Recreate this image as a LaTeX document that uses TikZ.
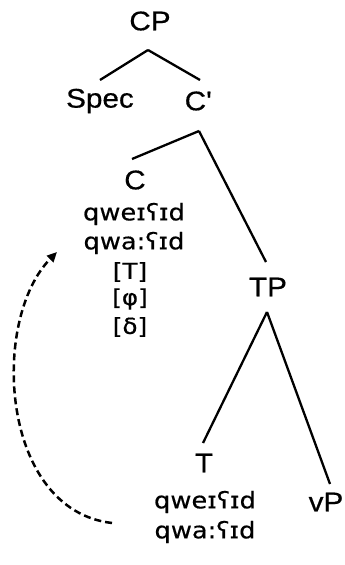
\documentclass[tikz,border=0pt]{standalone}
\usepackage{fontspec}
\setmainfont{Liberation Sans}[FakeStretch=1.1,FakeBold=0.5]
\newfontfamily\ipafont{DejaVu Sans}[FakeStretch=1.12,FakeBold=0.4]
\usetikzlibrary{arrows.meta}
\tikzset{
  lab/.style={font=\fontsize{27}{31}\selectfont, inner sep=0pt, anchor=center},
  ipa/.style={font=\ipafont\fontsize{23}{27}\selectfont, inner sep=0pt, anchor=center},
  feat/.style={font=\ipafont\fontsize{22}{26}\selectfont, inner sep=0pt, anchor=center},
  branch/.style={line width=2.3pt, black},
  move/.style={line width=2.5pt, dash pattern=on 7pt off 4pt, -{Triangle[length=10pt,width=9pt]}}
}
\begin{document}
\begin{tikzpicture}[x=1pt,y=-1pt]
\useasboundingbox (0,0) rectangle (345,565);
\node[lab] (CP) at (150,21) {CP};
\node[lab] (Spec) at (100,101) {Spec};
\node[lab] (Cbar) at (198,101) {C\textquotesingle};
\node[lab] (C) at (135,180) {C};
\node[ipa] (c1) at (134,214) {qweɪʕɪd};
\node[ipa] (c2) at (134,243) {qwa:ʕɪd};
\node[feat] (fT) at (130,272) {[T]};
\node[feat] (fphi) at (130,299) {[φ]};
\node[feat] (fdelta) at (130,327) {[δ]};
\node[lab] (TP) at (268,287) {TP};
\node[lab] (T) at (204,463) {T};
\node[ipa] (t1) at (205,502) {qweɪʕɪd};
\node[ipa] (t2) at (205,532) {qwa:ʕɪd};
\node[lab] (vP) at (326,502) {vP};
\coordinate (cpb) at (148,50);
\coordinate (cbb) at (199,131);
\coordinate (tpb) at (267,312);
\draw[branch] (cpb) -- (100,80) (cpb) -- (200,80);
\draw[branch] (cbb) -- (132,159) (cbb) -- (266,262);
\draw[branch] (tpb) -- (203,443) (tpb) -- (330,484);
\coordinate (ms) at (112,523);
\coordinate (me) at (57,252);
\draw[move] (ms) .. controls (0,510) and (-10,320) .. (me);
\end{tikzpicture}
\end{document}
